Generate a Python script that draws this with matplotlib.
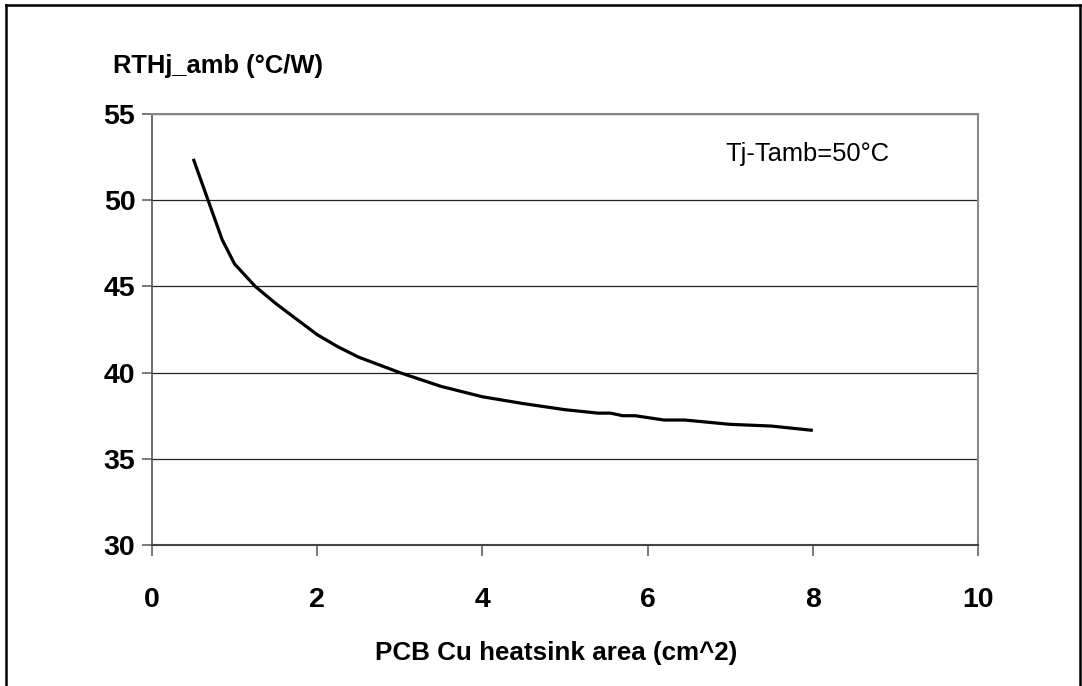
import matplotlib
matplotlib.use("Agg")
import matplotlib.pyplot as plt
from matplotlib.lines import Line2D

plt.rcParams['font.family'] = ['Liberation Sans', 'DejaVu Sans']

# Data
area_cm2 = [0.5, 0.85, 1.0, 1.25, 1.5, 2.0, 2.25, 2.5, 3.0, 3.5, 4.0, 4.5,
            5.0, 5.4, 5.55, 5.7, 5.85, 6.2, 6.45, 7.0, 7.5, 8.0]
rth_j_amb = [52.4, 47.7, 46.3, 45.0, 44.0, 42.2, 41.5, 40.9, 40.0, 39.2, 38.6, 38.2,
             37.85, 37.65, 37.65, 37.5, 37.5, 37.25, 37.25, 37.0, 36.9, 36.65]
x_ticks = [0, 2, 4, 6, 8, 10]
y_ticks = [30, 35, 40, 45, 50, 55]

fig = plt.figure(figsize=(10.82, 6.86), dpi=100)
ax = fig.add_axes([0.1405, 0.2055, 0.7634, 0.6283])

ax.plot(area_cm2, rth_j_amb, color='black', lw=2.3, solid_capstyle='butt', zorder=3)

ax.set_xlim(0, 10)
ax.set_ylim(30, 55)
ax.set_xticks(x_ticks)
ax.set_yticks(y_ticks)
ax.tick_params(axis='y', direction='out', length=7, width=1.1, color='#555555',
               pad=5, labelsize=20.5)
ax.tick_params(axis='x', direction='out', length=8, width=1.1, color='#555555',
               pad=22, labelsize=20.5)
for lbl in ax.get_xticklabels() + ax.get_yticklabels():
    lbl.set_fontweight('bold')

# horizontal gridlines
ax.set_axisbelow(True)
ax.yaxis.grid(True, color='#222222', lw=0.9)

# plot area border
ax.spines['top'].set_color('#888888')
ax.spines['top'].set_linewidth(1.5)
ax.spines['right'].set_color('#888888')
ax.spines['right'].set_linewidth(1.5)
ax.spines['left'].set_color('#555555')
ax.spines['left'].set_linewidth(1.2)
ax.spines['bottom'].set_color('#444444')
ax.spines['bottom'].set_linewidth(1.5)

fig.text(0.2015, 1 - 73 / 686, "RTHj_amb (°C/W)", ha='center', va='baseline',
         fontsize=18.4, fontweight='bold')
fig.text(0.514, 1 - 660 / 686, "PCB Cu heatsink area (cm^2)", ha='center',
         va='baseline', fontsize=18.7, fontweight='bold')
fig.text(807 / 1082, 1 - 154 / 686, "Tj-Tamb=50°C", ha='center', va='center',
         fontsize=18.4)

# outer frame (bottom edge falls outside the image)
frame_kw = dict(color='black', lw=1.8, transform=fig.transFigure)
fig.add_artist(Line2D([0.006, 0.006], [-0.1, 0.992], **frame_kw))
fig.add_artist(Line2D([0.006, 0.9982], [0.992, 0.992], **frame_kw))
fig.add_artist(Line2D([0.9982, 0.9982], [-0.1, 0.992], **frame_kw))

fig.savefig("out.png", dpi=100)
